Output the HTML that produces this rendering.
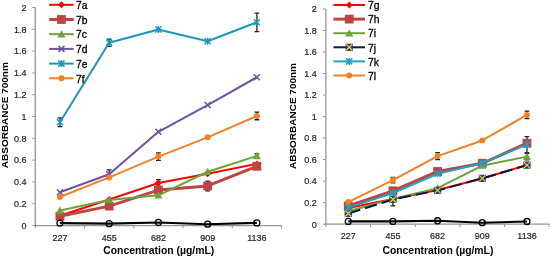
<!DOCTYPE html>
<html><head><meta charset="utf-8"><style>
html,body{margin:0;padding:0;background:#fff;}
svg{display:block;will-change:transform;}
.t{font-family:"Liberation Sans",sans-serif;font-size:9px;fill:#262626;stroke:#262626;stroke-width:0.2px;}
.ti{font-family:"Liberation Sans",sans-serif;font-size:10.4px;font-weight:bold;fill:#000;}
.ti2{font-family:"Liberation Sans",sans-serif;font-size:9.3px;font-weight:bold;fill:#000;}
.lg{font-family:"Liberation Sans",sans-serif;font-size:10.3px;fill:#000;stroke:#000;stroke-width:0.3px;}
</style></head><body>
<svg width="550" height="257" viewBox="0 0 550 257">
<rect width="550" height="257" fill="#fff"/>
<path d="M35.3 7.5V225.5H281.5" fill="none" stroke="#949494" stroke-width="1.25"/>
<path d="M32.3 7.50H35.3M32.3 29.30H35.3M32.3 51.10H35.3M32.3 72.90H35.3M32.3 94.70H35.3M32.3 116.50H35.3M32.3 138.30H35.3M32.3 160.10H35.3M32.3 181.90H35.3M32.3 203.70H35.3M32.3 225.50H35.3M35.30 225.5V228.3M84.54 225.5V228.3M133.78 225.5V228.3M183.02 225.5V228.3M232.26 225.5V228.3M281.50 225.5V228.3" fill="none" stroke="#949494" stroke-width="1"/>
<text transform="translate(26.5,228.80) scale(1,1.1)" text-anchor="end" class="t">0</text>
<text transform="translate(26.5,207.00) scale(1,1.1)" text-anchor="end" class="t">0.2</text>
<text transform="translate(26.5,185.20) scale(1,1.1)" text-anchor="end" class="t">0.4</text>
<text transform="translate(26.5,163.40) scale(1,1.1)" text-anchor="end" class="t">0.6</text>
<text transform="translate(26.5,141.60) scale(1,1.1)" text-anchor="end" class="t">0.8</text>
<text transform="translate(26.5,119.80) scale(1,1.1)" text-anchor="end" class="t">1</text>
<text transform="translate(26.5,98.00) scale(1,1.1)" text-anchor="end" class="t">1.2</text>
<text transform="translate(26.5,76.20) scale(1,1.1)" text-anchor="end" class="t">1.4</text>
<text transform="translate(26.5,54.40) scale(1,1.1)" text-anchor="end" class="t">1.6</text>
<text transform="translate(26.5,32.60) scale(1,1.1)" text-anchor="end" class="t">1.8</text>
<text transform="translate(26.5,10.80) scale(1,1.1)" text-anchor="end" class="t">2</text>
<text transform="translate(59.92,240.70) scale(1,1.1)" text-anchor="middle" class="t">227</text>
<text transform="translate(109.16,240.70) scale(1,1.1)" text-anchor="middle" class="t">455</text>
<text transform="translate(158.40,240.70) scale(1,1.1)" text-anchor="middle" class="t">682</text>
<text transform="translate(207.64,240.70) scale(1,1.1)" text-anchor="middle" class="t">909</text>
<text transform="translate(256.88,240.70) scale(1,1.1)" text-anchor="middle" class="t">1136</text>
<text transform="translate(158.70,254.2) scale(1,1.08)" text-anchor="middle" class="ti">Concentration (µg/mL)</text>
<text transform="translate(8.1,115.2) rotate(-90) scale(1.075,1)" text-anchor="middle" class="ti2">ABSORBANCE 700nm</text>
<path d="M59.92 117.92V126.64M57.52 117.92H62.32M57.52 126.64H62.32M109.16 39.11V46.30M106.76 39.11H111.56M106.76 46.30H111.56M256.88 13.06V31.59M254.48 13.06H259.28M254.48 31.59H259.28M109.16 169.91V178.63M106.76 169.91H111.56M106.76 178.63H111.56M158.40 152.80V160.43M156.00 152.80H160.80M156.00 160.43H160.80M256.88 112.14V119.77M254.48 112.14H259.28M254.48 119.77H259.28M207.64 181.03V190.84M205.24 181.03H210.04M205.24 190.84H210.04M158.40 179.72V186.26M156.00 179.72H160.80M156.00 186.26H160.80M256.88 153.78V158.14M254.48 153.78H259.28M254.48 158.14H259.28" fill="none" stroke="#222" stroke-width="1.3"/>
<polyline points="59.92,215.69 109.16,199.45 158.40,182.99 207.64,173.83 256.88,163.92" fill="none" stroke="#FF0000" stroke-width="2.0" stroke-linejoin="round"/>
<path d="M59.92 212.19L63.42 215.69L59.92 219.19L56.42 215.69Z" fill="#FF0000"/>
<path d="M109.16 195.95L112.66 199.45L109.16 202.95L105.66 199.45Z" fill="#FF0000"/>
<path d="M158.40 179.49L161.90 182.99L158.40 186.49L154.90 182.99Z" fill="#FF0000"/>
<path d="M207.64 170.33L211.14 173.83L207.64 177.33L204.14 173.83Z" fill="#FF0000"/>
<path d="M256.88 160.42L260.38 163.92L256.88 167.42L253.38 163.92Z" fill="#FF0000"/>
<polyline points="59.92,216.24 109.16,206.10 158.40,190.07 207.64,185.93 256.88,166.31" fill="none" stroke="#C04440" stroke-width="3.0" stroke-linejoin="round"/>
<rect x="55.52" y="211.84" width="8.80" height="8.80" fill="#C04440"/>
<rect x="104.76" y="201.70" width="8.80" height="8.80" fill="#C04440"/>
<rect x="154.00" y="185.67" width="8.80" height="8.80" fill="#C04440"/>
<rect x="203.24" y="181.53" width="8.80" height="8.80" fill="#C04440"/>
<rect x="252.48" y="161.91" width="8.80" height="8.80" fill="#C04440"/>
<polyline points="59.92,210.46 109.16,200.10 158.40,195.31 207.64,171.76 256.88,155.96" fill="none" stroke="#6FA23A" stroke-width="2.0" stroke-linejoin="round"/>
<path d="M59.92 206.46L63.92 213.66L55.92 213.66Z" fill="#6FA23A"/>
<path d="M109.16 196.10L113.16 203.30L105.16 203.30Z" fill="#6FA23A"/>
<path d="M158.40 191.31L162.40 198.51L154.40 198.51Z" fill="#6FA23A"/>
<path d="M207.64 167.76L211.64 174.96L203.64 174.96Z" fill="#6FA23A"/>
<path d="M256.88 151.96L260.88 159.16L252.88 159.16Z" fill="#6FA23A"/>
<polyline points="59.92,192.25 109.16,174.27 158.40,131.76 207.64,105.06 256.88,77.26" fill="none" stroke="#7150A0" stroke-width="2.0" stroke-linejoin="round"/>
<path d="M56.92 189.25L62.92 195.25M62.92 189.25L56.92 195.25" stroke="#7150A0" stroke-width="1.5"/>
<path d="M106.16 171.27L112.16 177.27M112.16 171.27L106.16 177.27" stroke="#7150A0" stroke-width="1.5"/>
<path d="M155.40 128.76L161.40 134.76M161.40 128.76L155.40 134.76" stroke="#7150A0" stroke-width="1.5"/>
<path d="M204.64 102.06L210.64 108.06M210.64 102.06L204.64 108.06" stroke="#7150A0" stroke-width="1.5"/>
<path d="M253.88 74.26L259.88 80.26M259.88 74.26L253.88 80.26" stroke="#7150A0" stroke-width="1.5"/>
<polyline points="59.92,122.28 109.16,42.71 158.40,29.52 207.64,41.29 256.88,22.32" fill="none" stroke="#1A98B9" stroke-width="2.0" stroke-linejoin="round"/>
<path d="M56.92 119.28L62.92 125.28M62.92 119.28L56.92 125.28M59.92 118.78L59.92 125.78" stroke="#1A98B9" stroke-width="1.5"/>
<path d="M106.16 39.71L112.16 45.71M112.16 39.71L106.16 45.71M109.16 39.21L109.16 46.21" stroke="#1A98B9" stroke-width="1.5"/>
<path d="M155.40 26.52L161.40 32.52M161.40 26.52L155.40 32.52M158.40 26.02L158.40 33.02" stroke="#1A98B9" stroke-width="1.5"/>
<path d="M204.64 38.29L210.64 44.29M210.64 38.29L204.64 44.29M207.64 37.79L207.64 44.79" stroke="#1A98B9" stroke-width="1.5"/>
<path d="M253.88 19.32L259.88 25.32M259.88 19.32L253.88 25.32M256.88 18.82L256.88 25.82" stroke="#1A98B9" stroke-width="1.5"/>
<polyline points="59.92,197.05 109.16,177.43 158.40,156.61 207.64,137.32 256.88,115.96" fill="none" stroke="#F38024" stroke-width="2.0" stroke-linejoin="round"/>
<circle cx="59.92" cy="197.05" r="3.0" fill="#F38024"/>
<circle cx="109.16" cy="177.43" r="3.0" fill="#F38024"/>
<circle cx="158.40" cy="156.61" r="3.0" fill="#F38024"/>
<circle cx="207.64" cy="137.32" r="3.0" fill="#F38024"/>
<circle cx="256.88" cy="115.96" r="3.0" fill="#F38024"/>
<polyline points="59.92,223.10 109.16,223.65 158.40,222.45 207.64,224.19 256.88,222.88" fill="none" stroke="#000000" stroke-width="2.1" stroke-linejoin="round"/>
<circle cx="59.92" cy="223.10" r="3" fill="none" stroke="#000000" stroke-width="1.3"/>
<circle cx="109.16" cy="223.65" r="3" fill="none" stroke="#000000" stroke-width="1.3"/>
<circle cx="158.40" cy="222.45" r="3" fill="none" stroke="#000000" stroke-width="1.3"/>
<circle cx="207.64" cy="224.19" r="3" fill="none" stroke="#000000" stroke-width="1.3"/>
<circle cx="256.88" cy="222.88" r="3" fill="none" stroke="#000000" stroke-width="1.3"/>
<path d="M49.2 4.80H73.7" stroke="#FF0000" stroke-width="2.0"/>
<path d="M61.45 1.30L64.95 4.80L61.45 8.30L57.95 4.80Z" fill="#FF0000"/>
<text x="76" y="9.00" class="lg">7a</text>
<path d="M49.2 19.50H73.7" stroke="#C04440" stroke-width="3.0"/>
<rect x="57.05" y="15.10" width="8.80" height="8.80" fill="#C04440"/>
<text x="76" y="23.70" class="lg">7b</text>
<path d="M49.2 34.20H73.7" stroke="#6FA23A" stroke-width="2.0"/>
<path d="M61.45 30.20L65.45 37.40L57.45 37.40Z" fill="#6FA23A"/>
<text x="76" y="38.40" class="lg">7c</text>
<path d="M49.2 48.90H73.7" stroke="#7150A0" stroke-width="2.0"/>
<path d="M58.45 45.90L64.45 51.90M64.45 45.90L58.45 51.90" stroke="#7150A0" stroke-width="1.5"/>
<text x="76" y="53.10" class="lg">7d</text>
<path d="M49.2 63.60H73.7" stroke="#1A98B9" stroke-width="2.0"/>
<path d="M58.45 60.60L64.45 66.60M64.45 60.60L58.45 66.60M61.45 60.10L61.45 67.10" stroke="#1A98B9" stroke-width="1.5"/>
<text x="76" y="67.80" class="lg">7e</text>
<path d="M49.2 78.30H73.7" stroke="#F38024" stroke-width="2.0"/>
<circle cx="61.45" cy="78.30" r="3.0" fill="#F38024"/>
<text x="76" y="82.50" class="lg">7f</text>
<path d="M325.9 9.0V224.2H549.3" fill="none" stroke="#949494" stroke-width="1.25"/>
<path d="M322.9 9.00H325.9M322.9 30.52H325.9M322.9 52.04H325.9M322.9 73.56H325.9M322.9 95.08H325.9M322.9 116.60H325.9M322.9 138.12H325.9M322.9 159.64H325.9M322.9 181.16H325.9M322.9 202.68H325.9M322.9 224.20H325.9M325.90 224.2V227.0M370.58 224.2V227.0M415.26 224.2V227.0M459.94 224.2V227.0M504.62 224.2V227.0M549.30 224.2V227.0" fill="none" stroke="#949494" stroke-width="1"/>
<text transform="translate(316.8,227.50) scale(1,1.1)" text-anchor="end" class="t">0</text>
<text transform="translate(316.8,205.98) scale(1,1.1)" text-anchor="end" class="t">0.2</text>
<text transform="translate(316.8,184.46) scale(1,1.1)" text-anchor="end" class="t">0.4</text>
<text transform="translate(316.8,162.94) scale(1,1.1)" text-anchor="end" class="t">0.6</text>
<text transform="translate(316.8,141.42) scale(1,1.1)" text-anchor="end" class="t">0.8</text>
<text transform="translate(316.8,119.90) scale(1,1.1)" text-anchor="end" class="t">1</text>
<text transform="translate(316.8,98.38) scale(1,1.1)" text-anchor="end" class="t">1.2</text>
<text transform="translate(316.8,76.86) scale(1,1.1)" text-anchor="end" class="t">1.4</text>
<text transform="translate(316.8,55.34) scale(1,1.1)" text-anchor="end" class="t">1.6</text>
<text transform="translate(316.8,33.82) scale(1,1.1)" text-anchor="end" class="t">1.8</text>
<text transform="translate(316.8,12.30) scale(1,1.1)" text-anchor="end" class="t">2</text>
<text transform="translate(348.24,239.40) scale(1,1.1)" text-anchor="middle" class="t">227</text>
<text transform="translate(392.92,239.40) scale(1,1.1)" text-anchor="middle" class="t">455</text>
<text transform="translate(437.60,239.40) scale(1,1.1)" text-anchor="middle" class="t">682</text>
<text transform="translate(482.28,239.40) scale(1,1.1)" text-anchor="middle" class="t">909</text>
<text transform="translate(526.96,239.40) scale(1,1.1)" text-anchor="middle" class="t">1136</text>
<text transform="translate(437.90,254.2) scale(1,1.08)" text-anchor="middle" class="ti">Concentration (µg/mL)</text>
<text transform="translate(296.1,116) rotate(-90) scale(1.075,1)" text-anchor="middle" class="ti2">ABSORBANCE 700nm</text>
<path d="M392.92 177.29V182.88M390.52 177.29H395.32M390.52 182.88H395.32M437.60 152.54V159.64M435.20 152.54H440.00M435.20 159.64H440.00M526.96 111.11V118.64M524.56 111.11H529.36M524.56 118.64H529.36M526.96 136.61V152.75M524.56 136.61H529.36M524.56 152.75H529.36M482.28 161.15V165.45M479.88 161.15H484.68M479.88 165.45H484.68M392.92 193.00V205.91M390.52 193.00H395.32M390.52 205.91H395.32M526.96 153.40V159.86M524.56 153.40H529.36M524.56 159.86H529.36" fill="none" stroke="#222" stroke-width="1.3"/>
<polyline points="348.24,208.06 392.92,198.91 437.60,189.98 482.28,178.47 526.96,165.02" fill="none" stroke="#FF0000" stroke-width="2.0" stroke-linejoin="round"/>
<path d="M348.24 204.56L351.74 208.06L348.24 211.56L344.74 208.06Z" fill="#FF0000"/>
<path d="M392.92 195.41L396.42 198.91L392.92 202.41L389.42 198.91Z" fill="#FF0000"/>
<path d="M437.60 186.48L441.10 189.98L437.60 193.48L434.10 189.98Z" fill="#FF0000"/>
<path d="M482.28 174.97L485.78 178.47L482.28 181.97L478.78 178.47Z" fill="#FF0000"/>
<path d="M526.96 161.52L530.46 165.02L526.96 168.52L523.46 165.02Z" fill="#FF0000"/>
<polyline points="348.24,206.02 392.92,190.84 437.60,171.48 482.28,163.30 526.96,143.18" fill="none" stroke="#C04440" stroke-width="3.0" stroke-linejoin="round"/>
<rect x="343.84" y="201.62" width="8.80" height="8.80" fill="#C04440"/>
<rect x="388.52" y="186.44" width="8.80" height="8.80" fill="#C04440"/>
<rect x="433.20" y="167.08" width="8.80" height="8.80" fill="#C04440"/>
<rect x="477.88" y="158.90" width="8.80" height="8.80" fill="#C04440"/>
<rect x="522.56" y="138.78" width="8.80" height="8.80" fill="#C04440"/>
<polyline points="348.24,211.29 392.92,198.91 437.60,188.15 482.28,165.67 526.96,156.63" fill="none" stroke="#6FA23A" stroke-width="2.0" stroke-linejoin="round"/>
<path d="M348.24 207.29L352.24 214.49L344.24 214.49Z" fill="#6FA23A"/>
<path d="M392.92 194.91L396.92 202.11L388.92 202.11Z" fill="#6FA23A"/>
<path d="M437.60 184.15L441.60 191.35L433.60 191.35Z" fill="#6FA23A"/>
<path d="M482.28 161.67L486.28 168.87L478.28 168.87Z" fill="#6FA23A"/>
<path d="M526.96 152.63L530.96 159.83L522.96 159.83Z" fill="#6FA23A"/>
<polyline points="348.24,213.44 392.92,199.45 437.60,190.41 482.28,178.36 526.96,165.13" fill="none" stroke="#14163F" stroke-width="2.0" stroke-linejoin="round" stroke-dasharray="12.5,5"/>
<rect x="344.64" y="209.84" width="7.20" height="7.20" fill="#23387F"/><path d="M345.24 210.44L351.24 216.44M351.24 210.44L345.24 216.44" stroke="#F2D21B" stroke-width="1.3"/>
<rect x="389.32" y="195.85" width="7.20" height="7.20" fill="#23387F"/><path d="M389.92 196.45L395.92 202.45M395.92 196.45L389.92 202.45" stroke="#F2D21B" stroke-width="1.3"/>
<rect x="434.00" y="186.81" width="7.20" height="7.20" fill="#23387F"/><path d="M434.60 187.41L440.60 193.41M440.60 187.41L434.60 193.41" stroke="#F2D21B" stroke-width="1.3"/>
<rect x="478.68" y="174.76" width="7.20" height="7.20" fill="#23387F"/><path d="M479.28 175.36L485.28 181.36M485.28 175.36L479.28 181.36" stroke="#F2D21B" stroke-width="1.3"/>
<rect x="523.36" y="161.53" width="7.20" height="7.20" fill="#23387F"/><path d="M523.96 162.13L529.96 168.13M529.96 162.13L523.96 168.13" stroke="#F2D21B" stroke-width="1.3"/>
<polyline points="348.24,207.63 392.92,193.00 437.60,173.84 482.28,163.19 526.96,144.68" fill="none" stroke="#20A0C3" stroke-width="2.0" stroke-linejoin="round"/>
<path d="M345.24 204.63L351.24 210.63M351.24 204.63L345.24 210.63M348.24 204.13L348.24 211.13" stroke="#20A0C3" stroke-width="1.5"/>
<path d="M389.92 190.00L395.92 196.00M395.92 190.00L389.92 196.00M392.92 189.50L392.92 196.50" stroke="#20A0C3" stroke-width="1.5"/>
<path d="M434.60 170.84L440.60 176.84M440.60 170.84L434.60 176.84M437.60 170.34L437.60 177.34" stroke="#20A0C3" stroke-width="1.5"/>
<path d="M479.28 160.19L485.28 166.19M485.28 160.19L479.28 166.19M482.28 159.69L482.28 166.69" stroke="#20A0C3" stroke-width="1.5"/>
<path d="M523.96 141.68L529.96 147.68M529.96 141.68L523.96 147.68M526.96 141.18L526.96 148.18" stroke="#20A0C3" stroke-width="1.5"/>
<polyline points="348.24,202.03 392.92,180.08 437.60,156.09 482.28,140.49 526.96,114.88" fill="none" stroke="#F38024" stroke-width="2.0" stroke-linejoin="round"/>
<circle cx="348.24" cy="202.03" r="3.0" fill="#F38024"/>
<circle cx="392.92" cy="180.08" r="3.0" fill="#F38024"/>
<circle cx="437.60" cy="156.09" r="3.0" fill="#F38024"/>
<circle cx="482.28" cy="140.49" r="3.0" fill="#F38024"/>
<circle cx="526.96" cy="114.88" r="3.0" fill="#F38024"/>
<polyline points="348.24,221.40 392.92,221.40 437.60,220.76 482.28,222.69 526.96,221.51" fill="none" stroke="#000000" stroke-width="2.1" stroke-linejoin="round"/>
<circle cx="348.24" cy="221.40" r="3" fill="none" stroke="#000000" stroke-width="1.3"/>
<circle cx="392.92" cy="221.40" r="3" fill="none" stroke="#000000" stroke-width="1.3"/>
<circle cx="437.60" cy="220.76" r="3" fill="none" stroke="#000000" stroke-width="1.3"/>
<circle cx="482.28" cy="222.69" r="3" fill="none" stroke="#000000" stroke-width="1.3"/>
<circle cx="526.96" cy="221.51" r="3" fill="none" stroke="#000000" stroke-width="1.3"/>
<path d="M333.5 5.00H365" stroke="#FF0000" stroke-width="2.0"/>
<path d="M349.25 1.50L352.75 5.00L349.25 8.50L345.75 5.00Z" fill="#FF0000"/>
<text x="368" y="9.20" class="lg">7g</text>
<path d="M333.5 19.10H365" stroke="#C04440" stroke-width="3.0"/>
<rect x="344.85" y="14.70" width="8.80" height="8.80" fill="#C04440"/>
<text x="368" y="23.30" class="lg">7h</text>
<path d="M333.5 33.20H365" stroke="#6FA23A" stroke-width="2.0"/>
<path d="M349.25 29.20L353.25 36.40L345.25 36.40Z" fill="#6FA23A"/>
<text x="368" y="37.40" class="lg">7i</text>
<path d="M333.5 47.30H365" stroke="#14163F" stroke-width="2.0"/>
<rect x="345.65" y="43.70" width="7.20" height="7.20" fill="#23387F"/><path d="M346.25 44.30L352.25 50.30M352.25 44.30L346.25 50.30" stroke="#F2D21B" stroke-width="1.3"/>
<text x="368" y="51.50" class="lg">7j</text>
<path d="M333.5 61.40H365" stroke="#20A0C3" stroke-width="2.0"/>
<path d="M346.25 58.40L352.25 64.40M352.25 58.40L346.25 64.40M349.25 57.90L349.25 64.90" stroke="#20A0C3" stroke-width="1.5"/>
<text x="368" y="65.60" class="lg">7k</text>
<path d="M333.5 75.50H365" stroke="#F38024" stroke-width="2.0"/>
<circle cx="349.25" cy="75.50" r="3.0" fill="#F38024"/>
<text x="368" y="79.70" class="lg">7l</text>
</svg>
</body></html>
